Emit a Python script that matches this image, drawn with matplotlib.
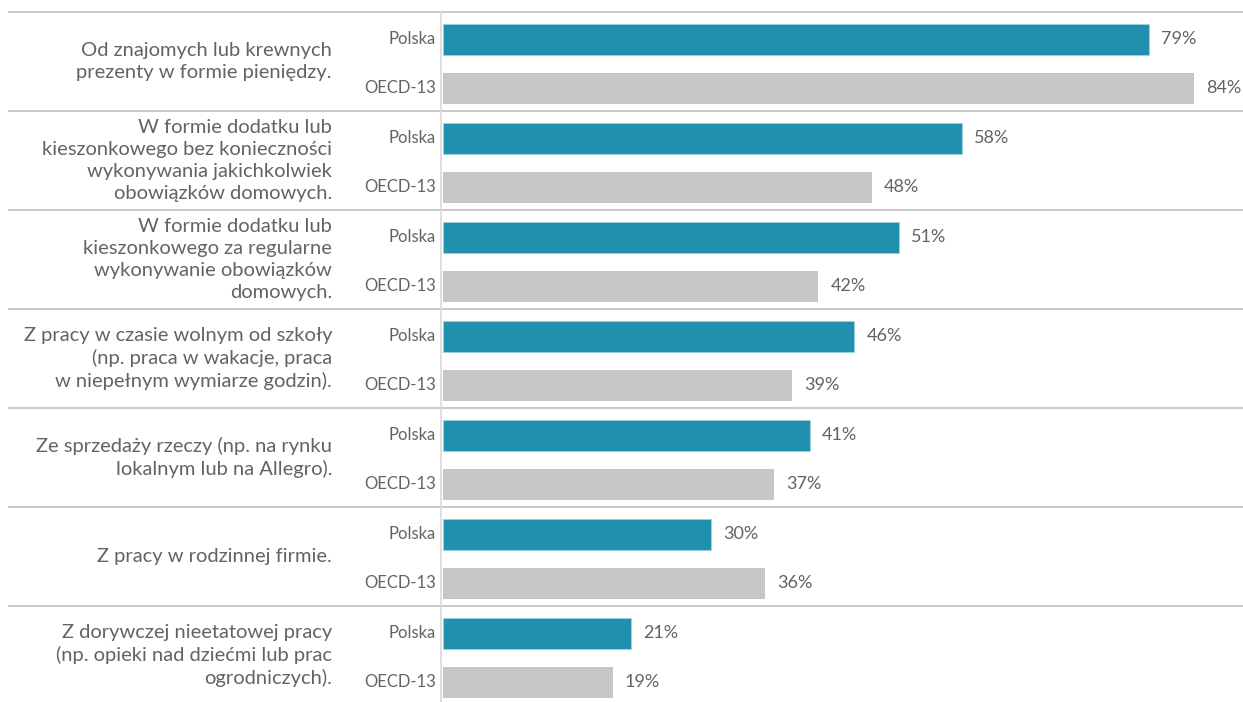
import matplotlib
matplotlib.use("Agg")
import matplotlib.pyplot as plt

categories = [
    "Od znajomych lub krewnych\nprezenty w formie pieniędzy.",
    "W formie dodatku lub\nkieszonkowego bez konieczności\nwykonywania jakichkolwiek\nobowiązków domowych.",
    "W formie dodatku lub\nkieszonkowego za regularne\nwykonywanie obowiązków\ndomowych.",
    "Z pracy w czasie wolnym od szkoły\n(np. praca w wakacje, praca\nw niepełnym wymiarze godzin).",
    "Ze sprzedaży rzeczy (np. na rynku\nlokalnym lub na Allegro).",
    "Z pracy w rodzinnej firmie.",
    "Z dorywczej nieetatowej pracy\n(np. opieki nad dziećmi lub prac\nogrodniczych).",
]
series_names = ["Polska", "OECD-13"]
polska = [79, 58, 51, 46, 41, 30, 21]
oecd = [84, 48, 42, 39, 37, 36, 19]

plt.rcParams["font.family"] = ["Lato", "DejaVu Sans"]

W, H = 1243, 702
fig = plt.figure(figsize=(W / 100, H / 100), dpi=100)
x0_px, top_px, grp_px = 443, 12, 99
px_per_unit = 8.94
n = len(categories)
ax = fig.add_axes([x0_px / W, (H - top_px - n * grp_px) / H,
                   (W - x0_px) / W, n * grp_px / H])
xmax = (W - x0_px) / px_per_unit
ax.set_xlim(0, xmax)
ax.set_ylim(n, 0)
ax.axis("off")

teal = "#2190AF"
grey = "#C6C6C6"
txt = "#636363"
line_c = "#BFBFBF"

ypol = [i + 0.275 for i in range(n)]
yoe = [i + 0.77 for i in range(n)]
ax.barh(ypol, polska, height=0.31, color=teal, edgecolor="#9fd3e3", linewidth=0.6)
ax.barh(yoe, oecd, height=0.31, color=grey, linewidth=0)

for y, v in zip(ypol, polska):
    ax.text(v + 1.35, y, f"{v}%", va="center", ha="left", fontsize=13, color=txt)
for y, v in zip(yoe, oecd):
    ax.text(v + 1.35, y, f"{v}%", va="center", ha="left", fontsize=13, color=txt)

lab_x = (436 - x0_px) / px_per_unit
for y in ypol:
    ax.text(lab_x, y, series_names[0], va="center", ha="right", fontsize=12, color=txt)
for y in yoe:
    ax.text(lab_x, y, series_names[1], va="center", ha="right", fontsize=12, color=txt)

cat_x = (332 - x0_px) / px_per_unit
for i, c in enumerate(categories):
    ax.text(cat_x, i + 0.5, c, va="center", ha="right", fontsize=14.5,
            color=txt, linespacing=1.36, multialignment="right")

# group separators
xmin_frac = (9 - x0_px) / (W - x0_px)
for i in range(n):
    ax.axhline(i, xmin=xmin_frac, xmax=1, color=line_c, linewidth=1.2, clip_on=False)

# vertical axis line
ax.axvline((441 - x0_px) / px_per_unit, ymin=0, ymax=1, color="#D9D9D9",
           linewidth=1.2, clip_on=False)

fig.savefig("out.png", dpi=100)
